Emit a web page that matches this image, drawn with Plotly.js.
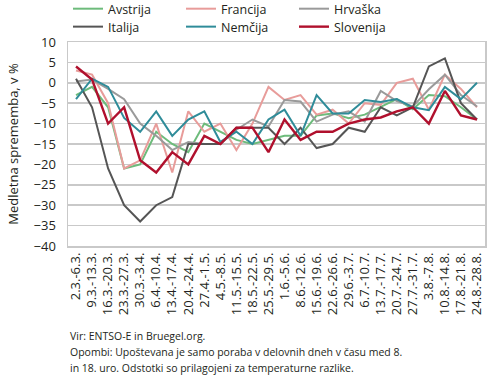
<!DOCTYPE html>
<html>
<head>
<meta charset="utf-8">
<script src="https://cdn.plot.ly/plotly-3.0.1.min.js"></script>
<style>
html,body{margin:0;padding:0;background:#fff;}
#chart{width:490px;height:379px;}
</style>
</head>
<body>
<div id="chart"></div>
<script>
var categories = ["2.3.-6.3.","9.3.-13.3.","16.3.-20.3.","23.3.-27.3.","30.3.-3.4.","6.4.-10.4.","13.4.-17.4.","20.4.-24.4.","27.4.-1.5.","4.5.-8.5.","11.5.-15.5.","18.5.-22.5.","25.5.-29.5.","1.6.-5.6.","8.6.-12.6.","15.6.-19.6.","22.6.-26.6.","29.6.-3.7.","6.7.-10.7.","13.7.-17.7.","20.7.-24.7.","27.7.-31.7.","3.8.-7.8.","10.8.-14.8.","17.8.-21.8.","24.8.-28.8."];

var avstrija  = [-3, -1, -6, -21, -20, -12, -15, -17, -10, -12, -14, -15, -14, -13, -13, -8, -7.5, -8.7, -7.8, -6, -4, -6.5, -3, -3.3, -6, -9];
var francija  = [3, 2, -5, -21, -19, -10, -22, -7, -12, -10, -16.5, -10, -1, -4.2, -3, -7.8, -6.6, -10, -5, -5.4, 0, 1, -6.6, 2, -1.5, -6];
var hrvaska   = [0.3, 0.8, -1.5, -4, -10, -13, -16.5, -14.5, -15, -15, -11.5, -9, -10.7, -4.2, -4.6, -9.5, -7.8, -7, -9.5, -2, -4.5, -5.8, -1.6, 2, -3, -5.8];
var italija   = [1, -6, -21, -30, -34, -30, -28, -15, -15, -15, -11, -11, -11, -15, -11, -16, -15, -11, -12, -6, -8, -6, 4, 6, -5, -9];
var nemcija   = [-4, 1, -1, -8.6, -12, -7, -13, -9, -7, -14.5, -12, -15, -9, -6.6, -13, -3, -7.5, -7.5, -4.2, -4.7, -4, -6, -6.7, -1, -4, 0];
var slovenija = [4, 0.8, -10, -6, -19, -22, -17, -20, -13, -15, -11, -11, -17, -9, -14, -12, -12, -10, -9, -8.5, -7, -6, -10, -2, -8, -9];

var seriesNames = ["Avstrija", "Francija", "Hrvaška", "Italija", "Nemčija", "Slovenija"];
var seriesData = [avstrija, francija, hrvaska, italija, nemcija, slovenija];
var seriesColors = ["#6dbb7b", "#e89c9a", "#9a9a9a", "#555555", "#2f8c99", "#b0102d"];
var seriesWidths = [2, 2, 2, 2, 2, 2.4];
var legendIds = ["legend", "legend", "legend", "legend2", "legend2", "legend2"];

var traces = seriesNames.map(function(n, k) {
  return {
    type: "scatter", mode: "lines", name: n,
    x: categories, y: seriesData[k],
    line: {color: seriesColors[k], width: seriesWidths[k]},
    legend: legendIds[k],
    hoverinfo: "skip"
  };
});

var fontFam = "Open Sans, Noto Sans, sans-serif";
var gridCol = "#c9c9c9";
var legFont = {family: fontFam, size: 12.5, color: "#231f20"};

var layout = {
  width: 490, height: 379,
  margin: {l: 68, r: 5, t: 42, b: 133, autoexpand: false},
  paper_bgcolor: "#fff", plot_bgcolor: "#fff",
  font: {family: fontFam, color: "#231f20", size: 12},
  showlegend: true,
  legend: {
    orientation: "h", x: 0, xanchor: "left", y: 1.235, yanchor: "top",
    entrywidth: 68, entrywidthmode: "pixels",
    font: legFont, traceorder: "normal", bgcolor: "rgba(0,0,0,0)"
  },
  legend2: {
    orientation: "h", x: 0, xanchor: "left", y: 1.147, yanchor: "top",
    entrywidth: 68, entrywidthmode: "pixels",
    font: legFont, traceorder: "normal", bgcolor: "rgba(0,0,0,0)"
  },
  xaxis: {
    type: "category", range: [-0.5, 25.5],
    showgrid: false, zeroline: false,
    showline: true, mirror: true, linecolor: gridCol, linewidth: 1.5,
    tickangle: -90, ticks: "", tickfont: {family: fontFam, size: 13, color: "#231f20"},
    fixedrange: true
  },
  yaxis: {
    range: [-40, 10], dtick: 5, tick0: 0,
    showgrid: true, gridcolor: gridCol, gridwidth: 1.5,
    zeroline: false,
    showline: true, mirror: true, linecolor: gridCol, linewidth: 1.5,
    ticks: "", ticklabelstandoff: 8,
    tickfont: {family: fontFam, size: 13, color: "#231f20"},
    title: {text: "Medletna sprememba, v %", font: {family: fontFam, size: 13, color: "#231f20"}, standoff: 12},
    fixedrange: true
  },
  annotations: [
    {xref: "paper", yref: "paper", x: 0, y: -0.44, xanchor: "left", yanchor: "middle", showarrow: false,
     text: "Vir: ENTSO-E in Bruegel.org.", font: {family: fontFam, size: 10.5, color: "#231f20"}},
    {xref: "paper", yref: "paper", x: 0, y: -0.518, xanchor: "left", yanchor: "middle", showarrow: false,
     text: "Opombi: Upoštevana je samo poraba v delovnih dneh v času med 8.", font: {family: fontFam, size: 10.5, color: "#231f20"}},
    {xref: "paper", yref: "paper", x: 0, y: -0.596, xanchor: "left", yanchor: "middle", showarrow: false,
     text: "in 18. uro. Odstotki so prilagojeni za temperaturne razlike.", font: {family: fontFam, size: 10.5, color: "#231f20"}}
  ]
};

Plotly.newPlot("chart", traces, layout, {displayModeBar: false, staticPlot: true});
</script>
</body>
</html>
